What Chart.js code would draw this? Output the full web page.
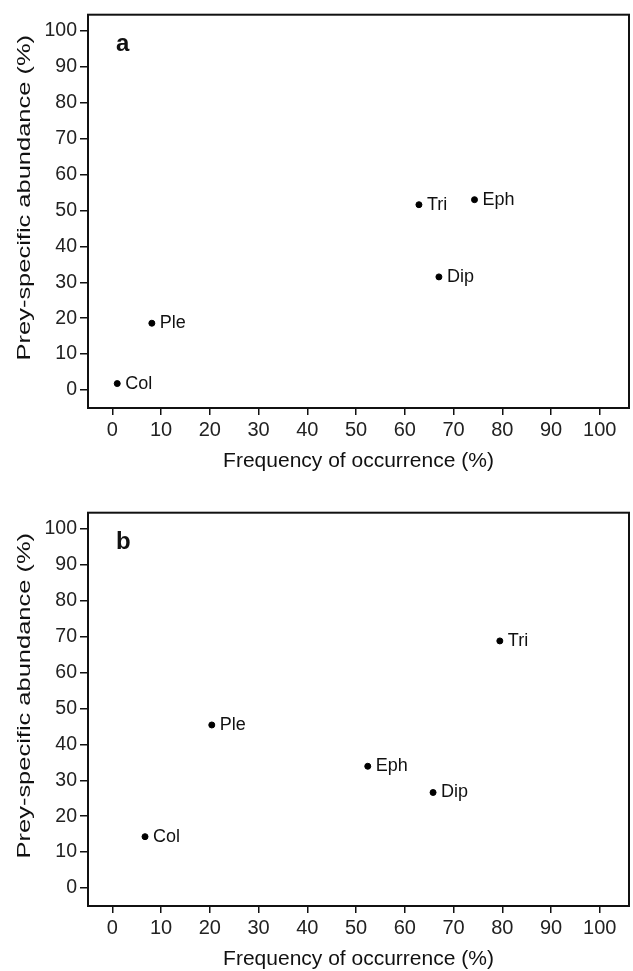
<!DOCTYPE html>
<html>
<head>
<meta charset="utf-8">
<script src="https://cdn.jsdelivr.net/npm/chart.js@4/dist/chart.umd.min.js"></script>
<style>
  html, body { margin: 0; padding: 0; background: #fff; overflow: hidden; }
  .painel { position: absolute; left: 0; width: 633px; height: 497px; }
</style>
</head>
<body>
<div class="painel" style="top:0px"><canvas id="chartA" width="633" height="497"></canvas></div>
<div class="painel" style="top:498px"><canvas id="chartB" width="633" height="497"></canvas></div>
<script>
// valores
const nomesA = ['Col', 'Ple', 'Tri', 'Eph', 'Dip'];
const freqA = [1.0, 8.1, 62.9, 74.3, 67.0];
const abundA = [1.8, 18.6, 51.6, 53.0, 31.5];

const nomesB = ['Col', 'Ple', 'Tri', 'Eph', 'Dip'];
const freqB = [6.7, 20.4, 79.5, 52.4, 65.8];
const abundB = [14.3, 45.4, 68.8, 33.9, 26.6];

const ticksX = [0, 10, 20, 30, 40, 50, 60, 70, 80, 90, 100];
const ticksY = [0, 10, 20, 30, 40, 50, 60, 70, 80, 90, 100];

const tituloX = 'Frequency of occurrence (%)';
const tituloY = 'Prey-specific abundance (%)';
const fonte = "'Liberation Sans', Arial, sans-serif";

// moldura, rótulos dos pontos, letra do painel e título do eixo y
const extras = {
    id: 'extras',
    afterDraw(chart, args, opts) {
        const c = chart.ctx;
        const a = chart.chartArea;
        c.save();
        c.strokeStyle = '#111';
        c.lineWidth = 2;
        c.strokeRect(a.left, a.top, a.right - a.left, a.bottom - a.top);

        c.fillStyle = '#111';
        c.font = '18px ' + fonte;
        c.textAlign = 'left';
        c.textBaseline = 'middle';
        const meta = chart.getDatasetMeta(0);
        meta.data.forEach((p, i) => {
            c.fillText(opts.nomes[i], p.x + 8, p.y);
        });

        c.font = 'bold 24px ' + fonte;
        c.textBaseline = 'middle';
        c.fillText(opts.letra, a.left + 28, a.top + 30);

        c.translate(25, a.top + 183);
        c.rotate(-Math.PI / 2);
        c.scale(1.34, 1);
        c.font = '19px ' + fonte;
        c.textAlign = 'center';
        c.fillText(tituloY, 0, 0);
        c.restore();
    }
};

function criaGrafico(id, xs, ys, nomes, letra) {
    const ctx = document.getElementById(id).getContext('2d');
    return new Chart(ctx, {
        type: 'scatter',
        data: {
            datasets: [{
                data: xs.map((v, i) => ({ x: v, y: ys[i] })),
                backgroundColor: '#000',
                borderColor: '#000',
                pointRadius: 3,
                pointHoverRadius: 3
            }]
        },
        options: {
            responsive: false,
            devicePixelRatio: 1,
            animation: false,
            events: [],
            layout: { padding: { top: 9, right: 2, left: 0, bottom: 0 } },
            plugins: {
                legend: { display: false },
                tooltip: { enabled: false },
                extras: { nomes: nomes, letra: letra }
            },
            scales: {
                x: {
                    type: 'linear',
                    min: -5,
                    max: 106,
                    afterBuildTicks: s => { s.ticks = ticksX.map(v => ({ value: v })); },
                    afterFit: s => { s.height = 89; },
                    grid: { display: true, drawOnChartArea: false, drawTicks: true, tickLength: 7, color: '#111', lineWidth: 1.5 },
                    border: { display: false },
                    ticks: { color: '#222', padding: 3, font: { size: 20, family: fonte } },
                    title: {
                        display: true,
                        text: tituloX,
                        color: '#111',
                        font: { size: 21, family: fonte },
                        padding: { top: 0, bottom: 23 }
                    }
                },
                y: {
                    type: 'linear',
                    min: -5,
                    max: 104.5,
                    afterBuildTicks: s => { s.ticks = ticksY.map(v => ({ value: v })); },
                    afterFit: s => { s.width = 88; },
                    grid: { display: true, drawOnChartArea: false, drawTicks: true, tickLength: 8, color: '#111', lineWidth: 1.5 },
                    border: { display: false },
                    ticks: { color: '#222', padding: 3, font: { size: 19.5, family: fonte } }
                }
            }
        },
        plugins: [extras]
    });
}

const graficoA = criaGrafico('chartA', freqA, abundA, nomesA, 'a');
const graficoB = criaGrafico('chartB', freqB, abundB, nomesB, 'b');
</script>
</body>
</html>
